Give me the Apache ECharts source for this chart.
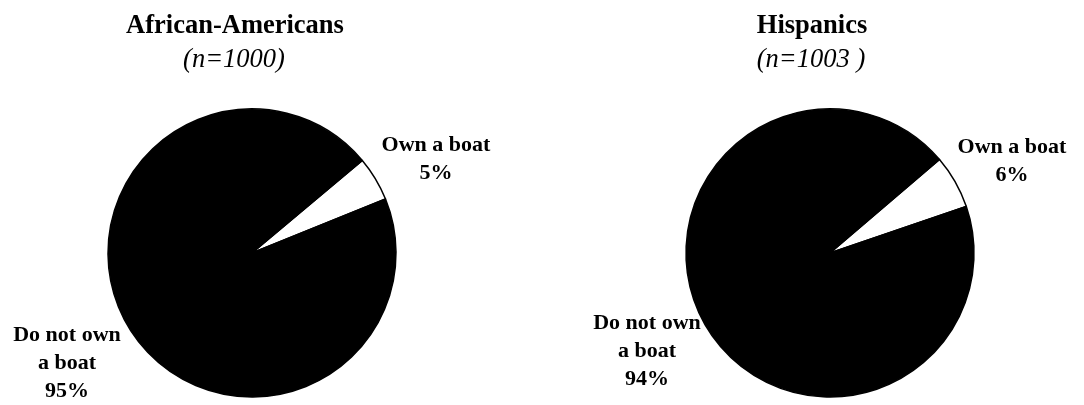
<!DOCTYPE html>
<html>
<head>
<meta charset="utf-8">
<script src="https://cdn.jsdelivr.net/npm/echarts@6/dist/echarts.min.js"></script>
<style>
html,body{margin:0;padding:0;background:#fff;}
#chart{width:1084px;height:405px;}
</style>
</head>
<body>
<div id="chart"></div>
<script>
const categories = ['Own a boat', 'Do not own\na boat'];
const africanAmericans = [5, 95];
const hispanics = [6, 94];
const chartTitles = ['African-Americans', 'Hispanics'];
const chartSubtitles = ['(n=1000)', '(n=1003 )'];

const FONT = "'Liberation Serif', 'Times New Roman', serif";
const labelPos = [
  [{x: 436, y: 159}, {x: 67, y: 363}],
  [{x: 1012, y: 161}, {x: 647, y: 351}]
];

function makeSeries(values, idx, center, startAngle) {
  return {
    type: 'pie',
    center: center,
    radius: 144,
    startAngle: startAngle,
    clockwise: true,
    avoidLabelOverlap: false,
    silent: true,
    animation: false,
    data: categories.map((c, i) => ({
      name: c,
      value: values[i],
      itemStyle: {color: i === 0 ? '#ffffff' : '#000000'}
    })),
    itemStyle: {borderColor: '#000', borderWidth: 1.5},
    label: {
      show: true,
      position: 'outside',
      formatter: '{b}\n{c}%',
      fontFamily: FONT,
      fontWeight: 'bold',
      fontSize: 22,
      lineHeight: 28,
      color: '#000',
      align: 'center'
    },
    labelLine: {show: false},
    labelLayout: function (p) {
      const pos = labelPos[idx][p.dataIndex];
      return {x: pos.x, y: pos.y, align: 'center', verticalAlign: 'middle'};
    }
  };
}

function titleItem(text, cx, top, italic) {
  return {
    text: text, left: cx, top: top, textAlign: 'center', padding: 0,
    textStyle: {
      fontFamily: FONT,
      fontWeight: italic ? 'normal' : 'bold',
      fontStyle: italic ? 'italic' : 'normal',
      fontSize: 26.5,
      color: '#000'
    }
  };
}

const chart = echarts.init(document.getElementById('chart'), null, {renderer: 'canvas'});
chart.setOption({
  backgroundColor: '#fff',
  animation: false,
  title: [
    titleItem(chartTitles[0], 235, 13, false),
    titleItem(chartSubtitles[0], 234, 47, true),
    titleItem(chartTitles[1], 812, 13, false),
    titleItem(chartSubtitles[1], 811, 47, true)
  ],
  series: [
    makeSeries(africanAmericans, 0, [252, 253], 40),
    makeSeries(hispanics, 1, [830, 253], 40.5)
  ]
});
</script>
</body>
</html>
